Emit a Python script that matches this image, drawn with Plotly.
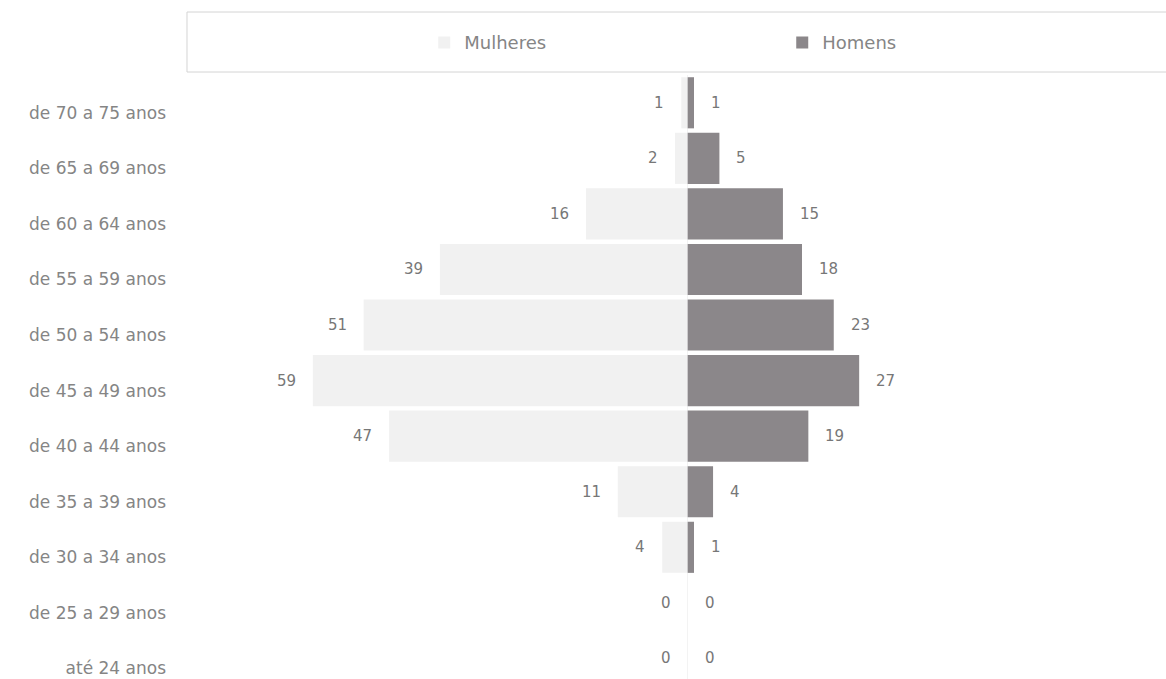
import plotly.graph_objects as go

# Age groups, bottom to top
faixas = [
    "até 24 anos",
    "de 25 a 29 anos",
    "de 30 a 34 anos",
    "de 35 a 39 anos",
    "de 40 a 44 anos",
    "de 45 a 49 anos",
    "de 50 a 54 anos",
    "de 55 a 59 anos",
    "de 60 a 64 anos",
    "de 65 a 69 anos",
    "de 70 a 75 anos",
]
mulheres = [0, 0, 4, 11, 47, 59, 51, 39, 16, 2, 1]
homens = [0, 0, 1, 4, 19, 27, 23, 18, 15, 5, 1]

COR_MULHERES = "#f1f1f1"
COR_HOMENS = "#8b878a"
COR_TEXTO = "#858585"
FONTE = "DejaVu Sans, sans-serif"

fig = go.Figure()
fig.add_trace(go.Bar(
    y=faixas, x=[-v for v in mulheres], orientation="h",
    name="Mulheres", marker=dict(color=COR_MULHERES, line=dict(width=0)),
    hoverinfo="skip",
))
fig.add_trace(go.Bar(
    y=faixas, x=homens, orientation="h",
    name="Homens", marker=dict(color=COR_HOMENS, line=dict(width=0)),
    hoverinfo="skip",
))

# Value labels just outside each bar end
annotations = []
for faixa, m, h in zip(faixas, mulheres, homens):
    annotations.append(dict(
        x=-m, y=faixa, xref="x", yref="y", text=str(m), showarrow=False,
        xanchor="right", xshift=-15, font=dict(family=FONTE, size=15, color="#777777"),
    ))
    annotations.append(dict(
        x=h, y=faixa, xref="x", yref="y", text=str(h), showarrow=False,
        xanchor="left", xshift=15, font=dict(family=FONTE, size=15, color="#777777"),
    ))

fig.update_layout(
    width=1166, height=679,
    margin=dict(l=175, r=0, t=75, b=0),
    paper_bgcolor="white", plot_bgcolor="white",
    barmode="overlay", bargap=0.08,
    font=dict(family=FONTE, color=COR_TEXTO),
    xaxis=dict(
        range=[-80.7, 75.3], showgrid=False, showticklabels=False,
        zeroline=True, zerolinecolor="#f3f3f3", zerolinewidth=1, fixedrange=True,
    ),
    yaxis=dict(
        type="category", categoryorder="array", categoryarray=faixas,
        range=[-0.37, 10.5], showgrid=False, zeroline=False,
        tickfont=dict(family=FONTE, size=17, color=COR_TEXTO),
        ticklabelshift=10, ticklabelstandoff=8,
    ),
    legend=dict(
        orientation="h", x=0.2515, y=1.084, xanchor="left", yanchor="top",
        entrywidth=313, entrywidthmode="pixels",
        font=dict(family=FONTE, size=18, color=COR_TEXTO),
        bgcolor="rgba(0,0,0,0)", traceorder="normal",
    ),
    shapes=[dict(
        type="rect", xref="paper", yref="paper",
        x0=0.0121, x1=1.01, y0=(679 - 72) / 604, y1=(679 - 12) / 604,
        line=dict(color="#d4d4d4", width=1), fillcolor="rgba(0,0,0,0)",
    )],
    annotations=annotations,
)

fig.write_html("out.html")
